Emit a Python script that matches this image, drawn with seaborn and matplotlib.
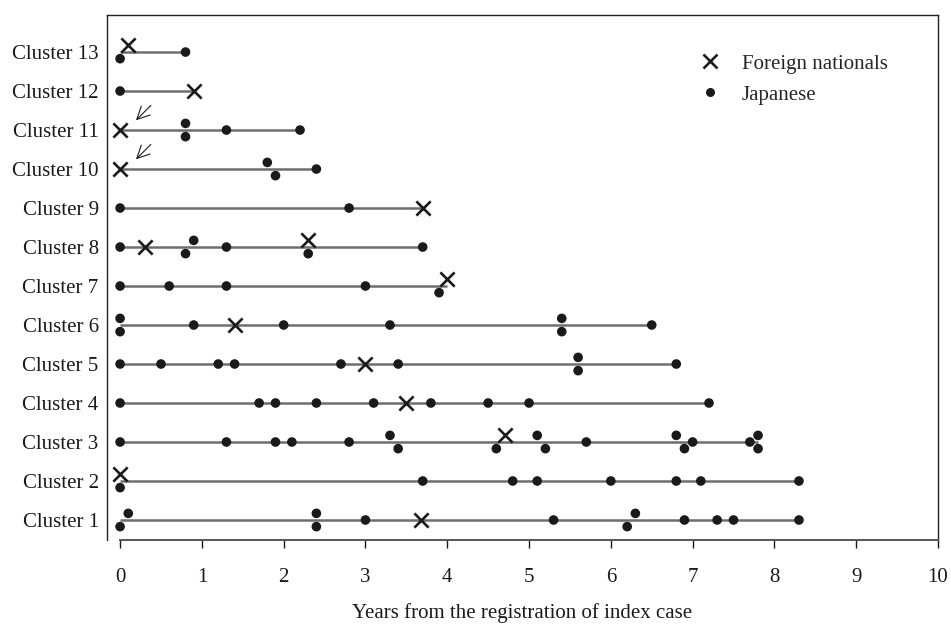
import matplotlib
matplotlib.use("Agg")
import matplotlib.pyplot as plt
from matplotlib.lines import Line2D
import seaborn as sns
import pandas as pd

# ---------------- data ----------------
clusters = list(range(1, 14))
cluster_labels = [f"Cluster {c}" for c in clusters]

# years from registration of index case; stack: +1 above line, -1 below, 0 on line
japanese_years = {
    1: [0, 0.1, 2.4, 2.4, 3.0, 5.3, 6.2, 6.3, 6.9, 7.3, 7.5, 8.3],
    2: [0, 3.7, 4.8, 5.1, 6.0, 6.8, 7.1, 8.3],
    3: [0, 1.3, 1.9, 2.1, 2.8, 3.3, 3.4, 4.6, 5.1, 5.2, 5.7, 6.8, 6.9, 7.0, 7.7, 7.8, 7.8],
    4: [0, 1.7, 1.9, 2.4, 3.1, 3.8, 4.5, 5.0, 7.2],
    5: [0, 0.5, 1.2, 1.4, 2.7, 3.4, 5.6, 5.6, 6.8],
    6: [0, 0, 0.9, 2.0, 3.3, 5.4, 5.4, 6.5],
    7: [0, 0.6, 1.3, 3.0, 3.9],
    8: [0, 0.8, 0.9, 1.3, 2.3, 3.7],
    9: [0, 2.8],
    10: [1.8, 1.9, 2.4],
    11: [0.8, 0.8, 1.3, 2.2],
    12: [0],
    13: [0, 0.8],
}
japanese_stack = {
    1: [-1, 1, 1, -1, 0, 0, -1, 1, 0, 0, 0, 0],
    2: [-1, 0, 0, 0, 0, 0, 0, 0],
    3: [0, 0, 0, 0, 0, 1, -1, -1, 1, -1, 0, 1, -1, 0, 0, 1, -1],
    4: [0, 0, 0, 0, 0, 0, 0, 0, 0],
    5: [0, 0, 0, 0, 0, 0, 1, -1, 0],
    6: [1, -1, 0, 0, 0, 1, -1, 0],
    7: [0, 0, 0, 0, -1],
    8: [0, -1, 1, 0, -1, 0],
    9: [0, 0],
    10: [1, -1, 0],
    11: [1, -1, 0, 0],
    12: [0],
    13: [-1, 0],
}
foreign_years = {
    1: [3.68], 2: [0], 3: [4.7], 4: [3.5], 5: [3.0], 6: [1.4], 7: [4.0],
    8: [0.3, 2.3], 9: [3.7], 10: [0], 11: [0], 12: [0.9], 13: [0.1],
}
foreign_stack = {
    1: [0], 2: [1], 3: [1], 4: [0], 5: [0], 6: [0], 7: [1],
    8: [0, 1], 9: [0], 10: [0], 11: [0], 12: [0], 13: [1],
}
arrow_clusters = [10, 11]
x_ticks = list(range(0, 11))

# ---------------- build table ----------------
STEP = 0.17
rows = []
for c in clusters:
    for x, s in zip(japanese_years[c], japanese_stack[c]):
        rows.append({"cluster": c, "years": x, "y": c + s * STEP, "group": "Japanese"})
    for x, s in zip(foreign_years[c], foreign_stack[c]):
        rows.append({"cluster": c, "years": x, "y": c + s * STEP, "group": "Foreign nationals"})
df = pd.DataFrame(rows)
ends = df.groupby("cluster")["years"].max()

# ---------------- style ----------------
sns.set_theme(style="white")
plt.rcParams["font.family"] = ["Liberation Serif", "DejaVu Serif"]
plt.rcParams["font.size"] = 15

fig = plt.figure(figsize=(9.51, 6.32), dpi=100)
ax = fig.add_axes([107 / 951, 1 - 540 / 632, (938 - 107) / 951, (540 - 15) / 632])

ax.hlines(clusters, 0, [ends[c] for c in clusters], color="#6e6e6e", lw=1.8, zorder=1)

jp = df[df.group == "Japanese"]
fn = df[df.group == "Foreign nationals"]
sns.scatterplot(data=jp, x="years", y="y", marker="o", s=48, color="#1a1a1a",
                edgecolor="none", ax=ax, zorder=3, legend=False)
sns.scatterplot(data=fn, x="years", y="y", marker="x", s=105, color="#1a1a1a",
                linewidth=1.9, ax=ax, zorder=3, legend=False)

for c in arrow_clusters:
    ax.annotate("", xy=(0.17, c + 0.20), xytext=(0.40, c + 0.68),
                arrowprops=dict(arrowstyle="->,head_length=0.6,head_width=0.3",
                                color="#1a1a1a", lw=0.8))

ax.set_xlim(-0.16, 10)
ax.set_ylim(0.487, 13.95)
ax.set_xticks(x_ticks)
ax.set_xticklabels([str(t) for t in x_ticks])
ax.set_yticks(clusters)
ax.set_yticklabels(cluster_labels)
ax.tick_params(axis="y", length=0, pad=6, labelsize=15, colors="#1a1a1a")
ax.tick_params(axis="x", direction="out", length=6, width=1.0, pad=14,
               labelsize=15, colors="#1a1a1a", bottom=True)
ax.set_xlabel("Years from the registration of index case", fontsize=15,
              color="#1a1a1a", labelpad=12)
ax.set_ylabel("")

for side in ["left", "top", "right"]:
    ax.spines[side].set_color("#222222")
    ax.spines[side].set_linewidth(1.0)
ax.spines["bottom"].set_bounds(0, 10)
ax.spines["bottom"].set_color("#555555")
ax.spines["bottom"].set_linewidth(1.4)

handles = [
    Line2D([], [], marker="x", ls="", color="#1a1a1a", markersize=10.5, markeredgewidth=1.9),
    Line2D([], [], marker="o", ls="", color="#1a1a1a", markersize=6.5, markeredgewidth=0),
]
ax.legend(handles, ["Foreign nationals", "Japanese"], loc="upper left",
          bbox_to_anchor=((700 - 107) / 831, (540 - 54) / 525), frameon=False,
          fontsize=15, handlelength=1.0, handletextpad=1.0, labelspacing=0.55,
          borderaxespad=0, borderpad=0)

fig.savefig("out.png", dpi=100)
